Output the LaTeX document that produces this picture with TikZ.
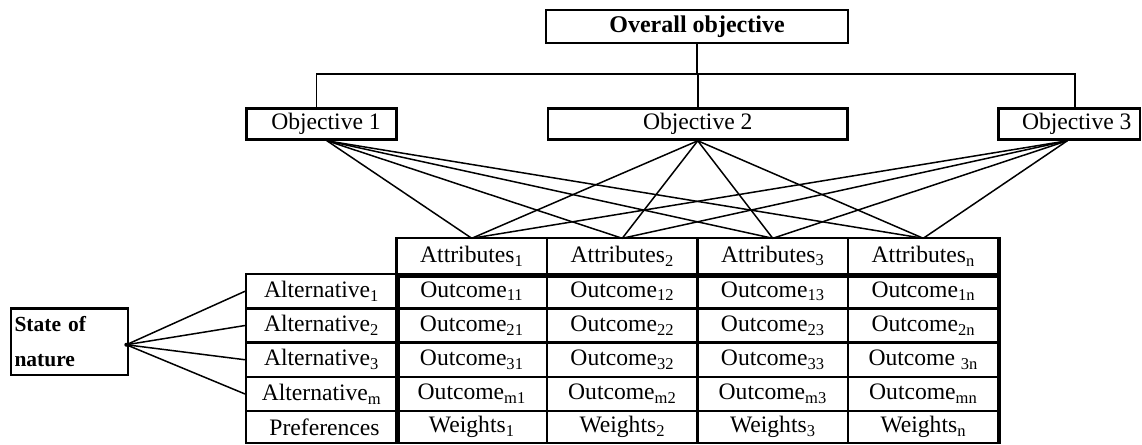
\documentclass[tikz,border=0pt]{standalone}
\usepackage{fontspec}
\setmainfont{Liberation Serif}
\begin{document}
\begin{tikzpicture}[x=1pt,y=-1pt,
  txt/.style={font=\fontsize{23.6}{27}\selectfont},
  box/.style={draw, line width=2.6pt, inner sep=0pt, txt},
  cell/.style={draw, line width=2.4pt, inner sep=0pt, minimum width=150.5pt, txt},
  link/.style={line width=1.5pt},
]
\useasboundingbox (0,0) rectangle (1142,444);

% --- objective hierarchy ---
\node[box, minimum width=302pt, minimum height=33pt,
      font=\fontsize{24}{28}\selectfont\bfseries] (overall) at (697,26.5) {Overall objective};
\node[box, minimum width=150pt, minimum height=31pt] (obj1) at (321.5,124) {\hspace*{9pt}Objective 1};
\node[box, minimum width=299.5pt, minimum height=31pt] (obj2) at (697.75,124) {Objective 2};
\node[box, minimum width=141.5pt, minimum height=31pt] (obj3) at (1069.25,124) {\hspace*{15pt}Objective 3};

\coordinate (busL) at (316.5,74);
\coordinate (busR) at (1075,74);
\draw[link] (overall.south) -- (overall.south |- busL);
\draw[link] (busL |- obj1.north) -- (busL) -- (busR) -- (busR |- obj3.north);
\draw[link] (obj2.north |- busL) -- (obj2.north);

% --- attribute header row ---
\node[cell, minimum height=36pt] (a1) at (471.75,256) {Attributes\textsubscript{1}};
\node[cell, minimum height=36pt] (a2) at (622.25,256) {Attributes\textsubscript{2}};
\node[cell, minimum height=36pt] (a3) at (772.75,256) {Attributes\textsubscript{3}};
\node[cell, minimum height=36pt] (a4) at (923.25,256) {Attributes\textsubscript{n}};

% --- alternatives and outcomes ---
\node[cell, minimum height=34.5pt] (alt1) at (321.5,291.25) {Alternative\textsubscript{1}};
\node[cell, minimum height=34.5pt] (o11) at (471.75,291.25) {Outcome\textsubscript{11}};
\node[cell, minimum height=34.5pt] (o12) at (622.25,291.25) {Outcome\textsubscript{12}};
\node[cell, minimum height=34.5pt] (o13) at (772.75,291.25) {Outcome\textsubscript{13}};
\node[cell, minimum height=34.5pt] (o14) at (923.25,291.25) {Outcome\textsubscript{1n}};

\node[cell, minimum height=34pt] (alt2) at (321.5,325.5) {Alternative\textsubscript{2}};
\node[cell, minimum height=34pt] (o21) at (471.75,325.5) {Outcome\textsubscript{21}};
\node[cell, minimum height=34pt] (o22) at (622.25,325.5) {Outcome\textsubscript{22}};
\node[cell, minimum height=34pt] (o23) at (772.75,325.5) {Outcome\textsubscript{23}};
\node[cell, minimum height=34pt] (o24) at (923.25,325.5) {Outcome\textsubscript{2n}};

\node[cell, minimum height=34.5pt] (alt3) at (321.5,359.75) {Alternative\textsubscript{3}};
\node[cell, minimum height=34.5pt] (o31) at (471.75,359.75) {Outcome\textsubscript{31}};
\node[cell, minimum height=34.5pt] (o32) at (622.25,359.75) {Outcome\textsubscript{32}};
\node[cell, minimum height=34.5pt] (o33) at (772.75,359.75) {Outcome\textsubscript{33}};
\node[cell, minimum height=34.5pt] (o34) at (923.25,359.75) {Outcome \textsubscript{3n}};

\node[cell, minimum height=34pt] (alt4) at (321.5,394) {Alternative\textsubscript{m}};
\node[cell, minimum height=34pt] (o41) at (471.75,394) {Outcome\textsubscript{m1}};
\node[cell, minimum height=34pt] (o42) at (622.25,394) {Outcome\textsubscript{m2}};
\node[cell, minimum height=34pt] (o43) at (772.75,394) {Outcome\textsubscript{m3}};
\node[cell, minimum height=34pt] (o44) at (923.25,394) {Outcome\textsubscript{mn}};

\node[cell, minimum height=31.5pt] (pref) at (321.5,427) {\hspace*{6pt}Preferences};
\node[cell, minimum height=31.5pt] (w1) at (471.75,427) {Weights\textsubscript{1}};
\node[cell, minimum height=31.5pt] (w2) at (622.25,427) {Weights\textsubscript{2}};
\node[cell, minimum height=31.5pt] (w3) at (772.75,427) {Weights\textsubscript{3}};
\node[cell, minimum height=31.5pt] (w4) at (923.25,427) {Weights\textsubscript{n}};

% heavy rules framing the outcome block
\draw[line width=5pt] (a1.south west) -- (a4.south east);
\draw[line width=5pt] (alt1.north east) -- (pref.south east);
\draw[line width=3.5pt] (a4.north east) -- (w4.south east);

% --- links from objectives to attributes ---
\coordinate (s1) at ([xshift=5.5pt]obj1.south);
\coordinate (s2) at (obj2.south);
\coordinate (s3) at ([xshift=-2pt]obj3.south);
\foreach \s in {s1,s2,s3}
  \foreach \a in {a1,a2,a3,a4}
    \draw[link] (\s) -- ([yshift=-1.5pt]\a.north);

% --- state of nature ---
\node[box, minimum width=117pt, minimum height=66.5pt, align=left, text width=110pt,
      inner xsep=3.5pt, font=\fontsize{21.5}{35}\selectfont\bfseries] (son) at (69.5,341.75)
      {State of\\nature};
\coordinate (hub) at ([xshift=-3pt,yshift=-3pt]son.east);
\fill (hub) circle (2pt);
\foreach \t in {alt1,alt2,alt3,alt4}
  \draw[link] (hub) -- (\t.west);
\end{tikzpicture}
\end{document}
